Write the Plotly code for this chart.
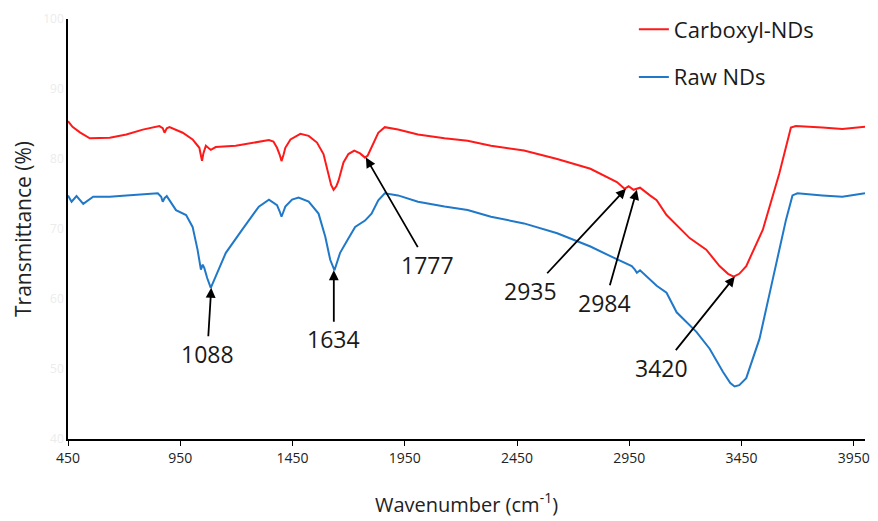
import plotly.graph_objects as go

carboxyl_x = [450, 470, 503, 547, 636, 710, 783, 857, 872, 880, 890, 902, 961, 1005, 1025, 1035, 1042, 1047, 1053,
              1064, 1086, 1108, 1197, 1271, 1345, 1365, 1381, 1393, 1401, 1410, 1418, 1441, 1485, 1522, 1559, 1588,
              1610, 1622, 1633, 1645, 1655, 1677, 1699, 1725, 1751, 1773, 1785, 1802, 1832, 1861, 1920, 2009, 2127,
              2230, 2334, 2481, 2629, 2777, 2851, 2895, 2929, 2947, 2969, 2998, 3042, 3072, 3116, 3219, 3293, 3352,
              3390, 3415, 3440, 3471, 3545, 3618, 3670, 3692, 3810, 3899, 4000]
carboxyl_y = [85.4, 84.6, 83.8, 82.95, 83.05, 83.5, 84.2, 84.7, 84.4, 83.75, 84.4, 84.55, 83.75, 82.8, 82.0, 81.6,
              80.5, 79.75, 80.8, 81.9, 81.3, 81.7, 81.9, 82.35, 82.7, 82.5, 81.6, 80.6, 79.7, 80.6, 81.6, 82.8, 83.6,
              83.3, 82.35, 80.7, 77.9, 76.3, 75.6, 76.1, 76.9, 79.5, 80.7, 81.2, 80.8, 80.2, 80.5, 81.6, 83.75, 84.55,
              84.2, 83.5, 82.95, 82.6, 81.9, 81.2, 80.0, 78.6, 77.4, 76.7, 75.75, 76.1, 75.6, 75.9, 74.8, 74.1, 72.0,
              68.7, 67.05, 64.7, 63.6, 63.2, 63.6, 64.7, 69.9, 77.9, 84.5, 84.7, 84.5, 84.3, 84.6]

raw_x = [450, 466, 488, 518, 562, 636, 710, 783, 850, 865, 872, 880, 890, 931, 976, 1005, 1027, 1042, 1050, 1057,
         1070, 1086, 1100, 1116, 1153, 1226, 1300, 1345, 1381, 1393, 1401, 1410, 1418, 1448, 1477, 1522, 1566,
         1596, 1618, 1637, 1662, 1691, 1729, 1773, 1802, 1832, 1861, 1920, 2009, 2127, 2230, 2334, 2481, 2629,
         2777, 2880, 2961, 2975, 2984, 2998, 3072, 3116, 3161, 3249, 3308, 3367, 3400, 3419, 3440, 3471, 3530,
         3589, 3648, 3677, 3699, 3810, 3899, 4000]
raw_y = [74.8, 73.9, 74.7, 73.6, 74.6, 74.6, 74.8, 74.95, 75.1, 74.6, 73.9, 74.4, 74.7, 72.7, 72.0, 70.3, 67.05,
         64.2, 64.9, 64.45, 63.0, 61.6, 62.6, 63.7, 66.6, 69.9, 73.2, 74.2, 73.4, 72.5, 71.75, 72.5, 73.2, 74.2,
         74.5, 73.9, 72.2, 68.9, 65.6, 64.1, 66.6, 68.2, 70.3, 71.2, 72.2, 74.1, 75.1, 74.8, 73.9, 73.2, 72.7,
         71.75, 70.8, 69.4, 67.5, 65.9, 64.7, 64.2, 63.75, 64.1, 61.9, 60.9, 58.1, 55.3, 52.9, 49.6, 48.0, 47.5,
         47.7, 48.7, 54.3, 62.8, 71.3, 74.8, 75.1, 74.8, 74.6, 75.1]

x_ticks = [450, 950, 1450, 1950, 2450, 2950, 3450, 3950]
y_ticks = [40, 50, 60, 70, 80, 90, 100]

# peak labels: (wavenumber, transmittance at tip, text, tail dx px, tail dy px)
peak_labels = [
    (1088, 61.6, "1088", -4, 66),
    (1634, 64.1, "1634", 0, 69),
    (1777, 80.2, "1777", 62, 107),
    (2935, 75.75, "2935", -95, 102),
    (2984, 75.6, "2984", -32, 113),
    (3420, 63.2, "3420", -73, 91),
]

FONT = "Open Sans"

fig = go.Figure()
fig.add_trace(go.Scatter(x=carboxyl_x, y=carboxyl_y, mode="lines", name="Carboxyl-NDs",
                         line=dict(color="#ff1a1a", width=2), legendgroup="a"))
fig.add_trace(go.Scatter(x=raw_x, y=raw_y, mode="lines", name="Raw NDs",
                         line=dict(color="#1f78c8", width=2), legendgroup="b"))

for (px, py, txt, dx, dy) in peak_labels:
    fig.add_annotation(x=px, y=py, xref="x", yref="y", text=txt, showarrow=True,
                       ax=dx, ay=dy, axref="pixel", ayref="pixel",
                       arrowhead=2, arrowsize=1.1, arrowwidth=1.8, arrowcolor="black",
                       font=dict(family=FONT, size=23, color="#1a1a1a"))

fig.update_layout(
    width=878, height=521,
    margin=dict(l=68, r=8, t=15, b=81),
    paper_bgcolor="white", plot_bgcolor="white",
    font=dict(family=FONT, color="#222"),
    showlegend=True,
    legend=dict(x=0.71, y=1.025, xanchor="left", yanchor="top", tracegroupgap=16,
                font=dict(family=FONT, size=22, color="#1a1a1a"), bgcolor="rgba(0,0,0,0)"),
    xaxis=dict(range=[450, 4000], tickvals=x_ticks, ticktext=[str(v) for v in x_ticks],
               showgrid=False, zeroline=False, showline=True, linecolor="black", linewidth=1.5,
               ticks="outside", ticklen=5, tickcolor="black", tickwidth=1.2,
               tickfont=dict(family=FONT, size=14, color="#222"),
               title=dict(text="Wavenumber (cm<sup>-1</sup>)", font=dict(family=FONT, size=20, color="#222"),
                          standoff=32)),
    yaxis=dict(range=[40, 100], tickvals=y_ticks, showgrid=False, zeroline=False, showline=True,
               linecolor="black", linewidth=1.5, ticks="",
               tickfont=dict(family=FONT, size=12, color="#ececec"),
               title=dict(text="Transmittance (%)", font=dict(family=FONT, size=21, color="#222"),
                          standoff=6)),
)

fig.write_html("out.html")
